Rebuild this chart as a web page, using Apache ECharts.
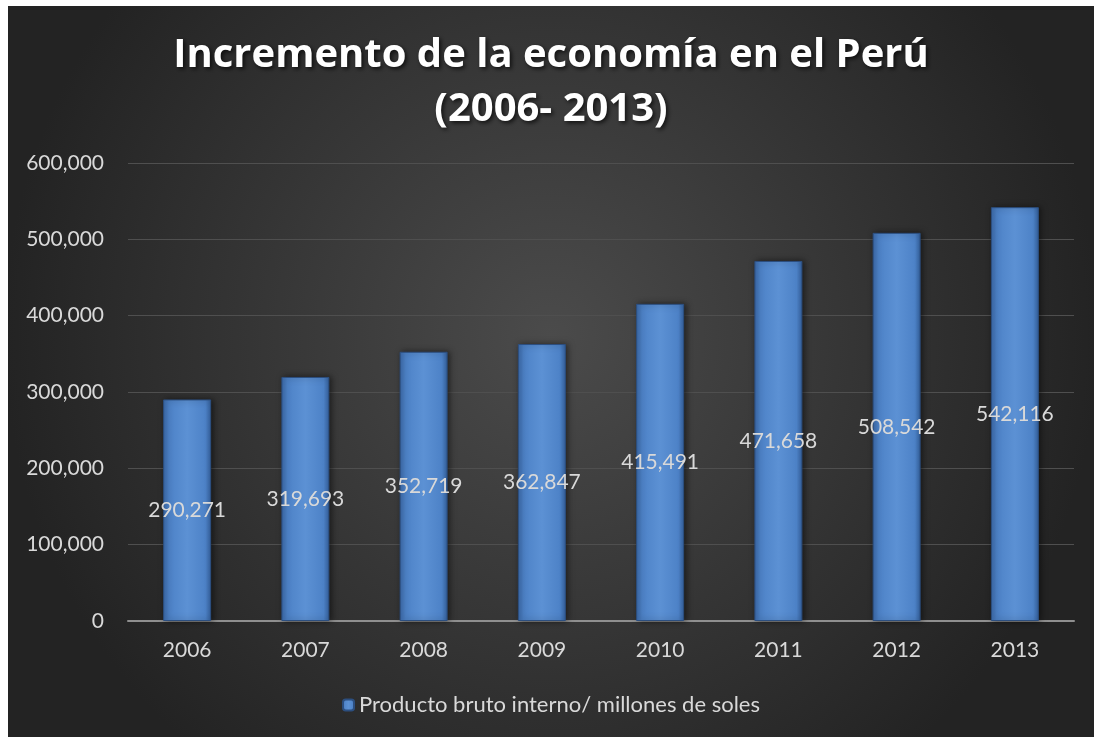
<!DOCTYPE html>
<html>
<head>
<meta charset="utf-8">
<script src="https://cdn.jsdelivr.net/npm/echarts@6/dist/echarts.min.js"></script>
<style>
  html, body { margin: 0; padding: 0; background: #ffffff; }
  #chart {
    position: absolute;
    left: 8px;
    top: 6px;
    width: 1086px;
    height: 731px;
  }
</style>
</head>
<body>
<div id="chart"></div>
<script>
const years = ['2006', '2007', '2008', '2009', '2010', '2011', '2012', '2013']
const pbi = [290271, 319693, 352719, 362847, 415491, 471658, 508542, 542116]
const seriesName = 'Producto bruto interno/ millones de soles'
const titleText = 'Incremento de la economía en el Perú\n(2006- 2013)'

const fmt = v => Number(v).toLocaleString('en-US')

const chart = echarts.init(document.getElementById('chart'))

const option = {
  backgroundColor: new echarts.graphic.RadialGradient(0.5, 0.45, 0.75, [
    { offset: 0, color: '#4b4b4b' },
    { offset: 1, color: '#232323' }
  ]),
  textStyle: { fontFamily: 'Lato' },
  title: {
    text: titleText,
    left: 'center',
    top: 18,
    textStyle: {
      color: '#ffffff',
      fontFamily: 'Open Sans',
      fontWeight: 'bold',
      fontSize: 40,
      lineHeight: 54,
      textShadowColor: 'rgba(0,0,0,0.7)',
      textShadowBlur: 4,
      textShadowOffsetX: 2,
      textShadowOffsetY: 2
    }
  },
  legend: {
    bottom: 16,
    left: 'center',
    itemWidth: 11,
    itemHeight: 11,
    itemGap: 6,
    textStyle: { color: '#d9d9d9', fontSize: 22, fontFamily: 'Lato' },
    data: [seriesName]
  },
  grid: {
    left: 120,
    right: 20,
    top: 157,
    bottom: 116,
    containLabel: false
  },
  xAxis: {
    type: 'category',
    data: years,
    axisLine: { lineStyle: { color: '#8f8f8f', width: 2 } },
    axisTick: { show: false },
    axisLabel: { color: '#d9d9d9', fontSize: 21, margin: 19 }
  },
  yAxis: {
    type: 'value',
    min: 0,
    max: 600000,
    interval: 100000,
    axisLine: { show: false },
    axisTick: { show: false },
    splitLine: { lineStyle: { color: '#4f4f4f', width: 1 } },
    axisLabel: {
      color: '#d9d9d9',
      fontSize: 21,
      margin: 24,
      formatter: fmt
    }
  },
  series: [
    {
      name: seriesName,
      type: 'bar',
      data: pbi,
      barWidth: 48,
      itemStyle: {
        color: new echarts.graphic.LinearGradient(0, 0, 1, 0, [
          { offset: 0, color: '#3b69a9' },
          { offset: 0.12, color: '#4d82c7' },
          { offset: 0.5, color: '#5c91d4' },
          { offset: 0.88, color: '#4d82c7' },
          { offset: 1, color: '#34609c' }
        ]),
        borderColor: '#2c4f80',
        borderWidth: 1,
        shadowColor: 'rgba(0,0,0,0.5)',
        shadowBlur: 6,
        shadowOffsetX: 2,
        shadowOffsetY: 0
      },
      label: {
        show: true,
        position: 'inside',
        color: '#d9d9d9',
        fontSize: 21,
        fontFamily: 'Lato',
        formatter: p => fmt(p.value)
      }
    }
  ]
}

chart.setOption(option)
window.addEventListener('resize', () => chart.resize())
</script>
</body>
</html>
